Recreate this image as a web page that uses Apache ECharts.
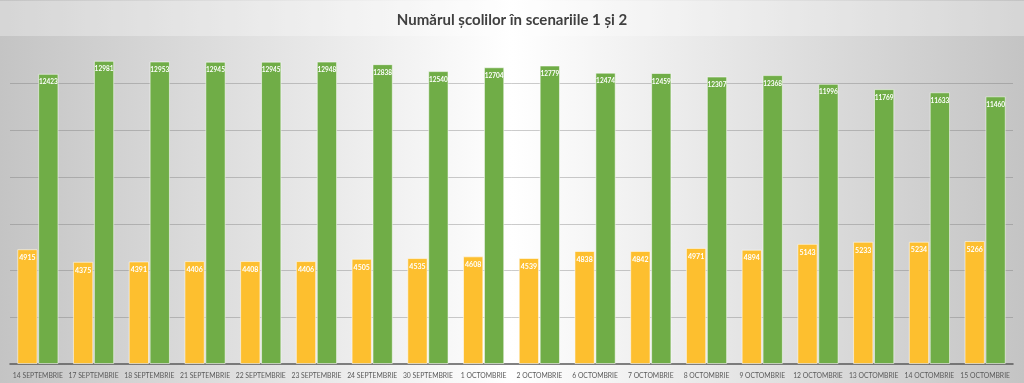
<!DOCTYPE html>
<html>
<head>
<meta charset="utf-8">
<script src="https://cdn.jsdelivr.net/npm/echarts@6/dist/echarts.min.js"></script>
<style>
html,body{margin:0;padding:0;}
#chart{width:1024px;height:383px;}
</style>
</head>
<body>
<div id="chart"></div>
<script>
const categories = ["14 SEPTEMBRIE","17 SEPTEMBRIE","18 SEPTEMBRIE","21 SEPTEMBRIE","22 SEPTEMBRIE","23 SEPTEMBRIE","24 SEPTEMBRIE","30 SEPTEMBRIE","1 OCTOMBRIE","2 OCTOMBRIE","6 OCTOMBRIE","7 OCTOMBRIE","8 OCTOMBRIE","9 OCTOMBRIE","12 OCTOMBRIE","13 OCTOMBRIE","14 OCTOMBRIE","15 OCTOMBRIE"];
const scenariul1 = [4915,4375,4391,4406,4408,4406,4505,4535,4608,4539,4838,4842,4971,4894,5143,5233,5234,5266];
const scenariul2 = [12423,12981,12953,12945,12945,12948,12838,12540,12704,12779,12474,12459,12307,12368,11996,11769,11633,11460];
const gridTicks = [2000,4000,6000,8000,10000,12000];
const title = "Numărul școlilor în scenariile 1 și 2";

const chart = echarts.init(document.getElementById('chart'));
chart.setOption({
  animation: false,
  backgroundColor: {
    type: 'linear', x: 0, y: 0, x2: 1, y2: 0,
    colorStops: [
      {offset: 0, color: '#c4c4c4'},
      {offset: 0.5, color: '#ffffff'},
      {offset: 1, color: '#c4c4c4'}
    ]
  },
  graphic: [{
    type: 'rect', left: 0, top: 1, z: -1,
    shape: {width: 1024, height: 35},
    style: {fill: 'rgba(255,255,255,0.3)'}
  }],
  title: {
    text: title, left: 'center', top: 8,
    textStyle: {fontFamily: 'Lato', fontWeight: 'bold', fontSize: 15, color: '#404040'}
  },
  grid: {left: 10, right: 11, top: 37, bottom: 19, containLabel: false},
  xAxis: {
    type: 'category', data: categories,
    axisLine: {lineStyle: {color: '#595959', width: 1.5}},
    axisTick: {show: false},
    axisLabel: {fontFamily: 'Lato', fontSize: 6.8, color: '#595959', margin: 8, interval: 0}
  },
  yAxis: {
    type: 'value', min: 0, max: 14000, interval: 2000,
    axisLine: {show: false}, axisTick: {show: false}, axisLabel: {show: false},
    splitLine: {show: false}
  },
  series: [{
    type: 'line', name: 'grid', data: [], z: 1, silent: true,
    markLine: {
      z: 1, silent: true, symbol: 'none', animation: false,
      label: {show: false},
      lineStyle: {color: 'rgba(110,110,110,0.35)', width: 1, type: 'solid'},
      data: gridTicks.map(v => ({yAxis: v}))
    }
  }, {
    type: 'bar', name: 'Scenariul 1', data: scenariul1,
    barCategoryGap: '26%', barGap: '3%',
    itemStyle: {color: '#fdbf2f', borderColor: 'rgba(255,255,255,0.55)', borderWidth: 1},
    label: {show: true, position: 'insideTop', distance: 5, color: '#ffffff', fontFamily: 'Lato', fontWeight: 'bold', fontSize: 7},
    z: 3
  }, {
    type: 'bar', name: 'Scenariul 2', data: scenariul2,
    barCategoryGap: '26%', barGap: '3%',
    itemStyle: {color: '#70ad47', borderColor: 'rgba(255,255,255,0.55)', borderWidth: 1},
    label: {show: true, position: 'insideTop', distance: 5, color: '#ffffff', fontFamily: 'Lato', fontWeight: 'bold', fontSize: 6.5},
    z: 3
  }]
});
</script>
</body>
</html>
